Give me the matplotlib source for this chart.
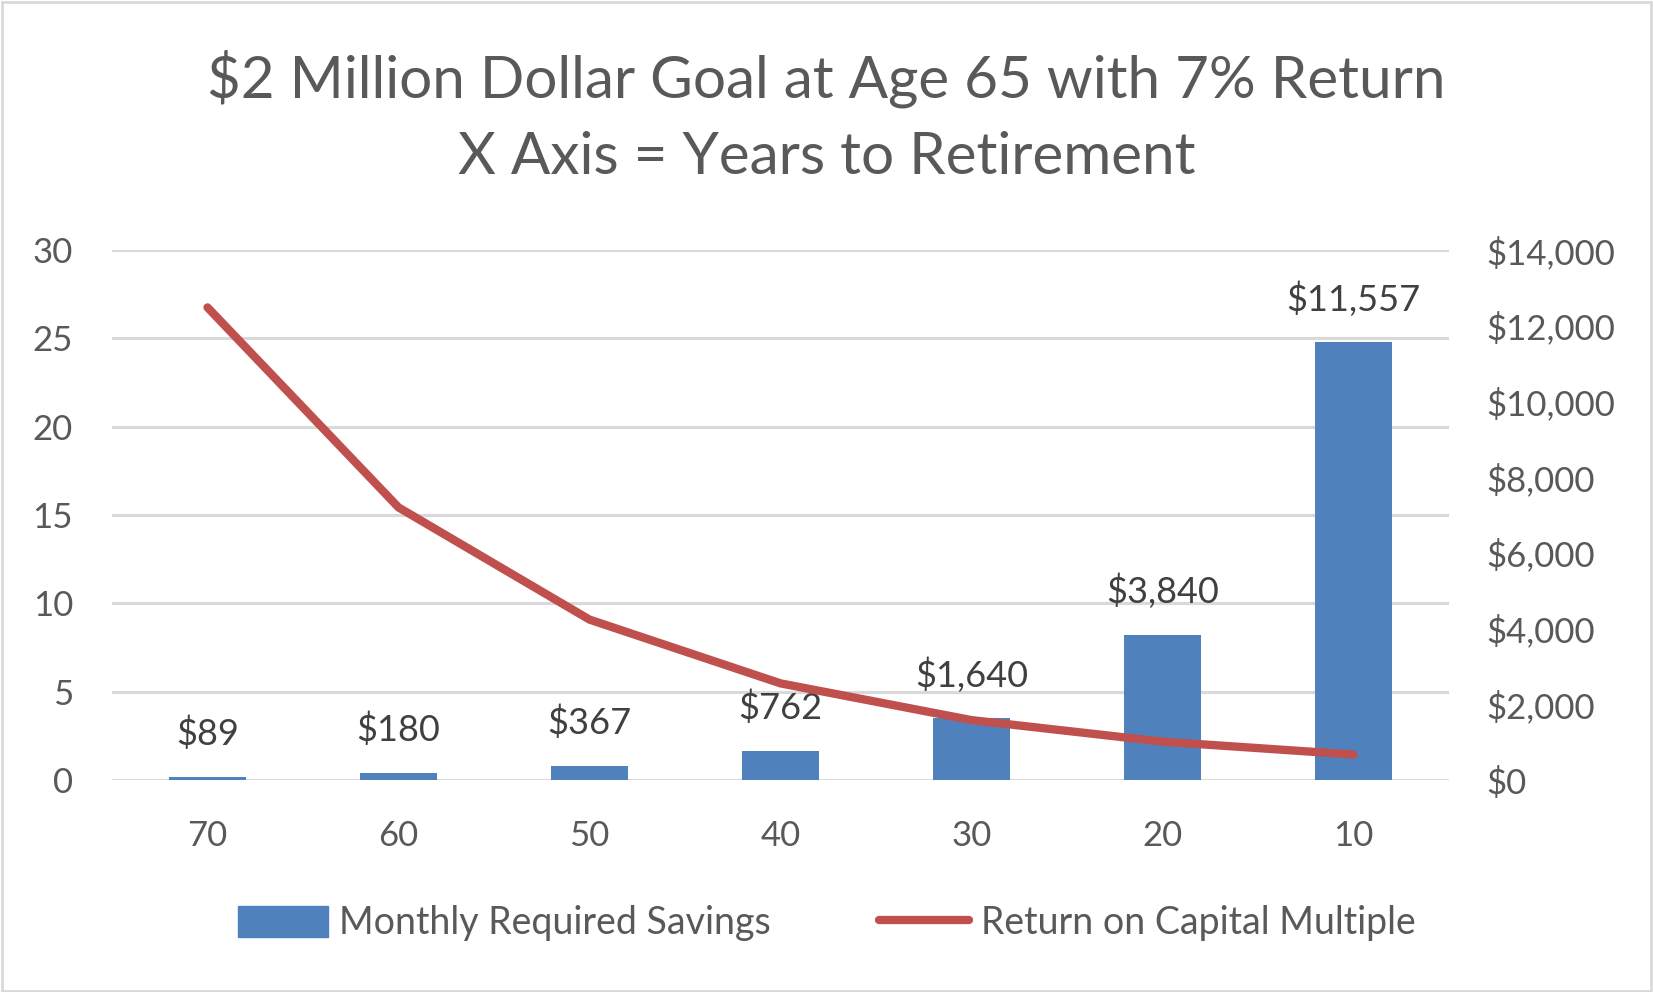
import matplotlib
matplotlib.use("Agg")
import matplotlib.pyplot as plt
from matplotlib.patches import Rectangle
from matplotlib.lines import Line2D
from matplotlib.ticker import FuncFormatter
from matplotlib.transforms import blended_transform_factory

plt.rcParams['font.family'] = ['Lato', 'DejaVu Sans']

years = ["70", "60", "50", "40", "30", "20", "10"]
monthly_savings = [89, 180, 367, 762, 1640, 3840, 11557]
return_multiple = [26.75, 15.43, 9.08, 5.47, 3.39, 2.17, 1.44]
left_ticks = [0, 5, 10, 15, 20, 25, 30]
right_ticks = [0, 2000, 4000, 6000, 8000, 10000, 12000, 14000]

title_line1 = "$2 Million Dollar Goal at Age 65 with 7% Return"
title_line2 = "X Axis = Years to Retirement"
bar_color = "#4F81BD"
line_color = "#C0504D"
text_color = "#595959"
grid_color = "#D9D9D9"

W, H = 1653, 992
fig = plt.figure(figsize=(W / 100, H / 100), dpi=100)
fig.patch.set_facecolor("white")
fig.add_artist(Rectangle((0.001, 0.001), 0.998, 0.997, transform=fig.transFigure,
                         fill=False, edgecolor=grid_color, linewidth=2))

ax = fig.add_axes([112 / W, 1 - 780 / H, (1449 - 112) / W, (780 - 250) / H])
ax2 = ax.twinx()

x = list(range(len(years)))
ax2.set_zorder(1)
ax.set_zorder(2)
ax.patch.set_visible(False)

# gridlines (left-axis positions) drawn behind the bars
gtrans = blended_transform_factory(ax2.transAxes, ax.transData)
for yv in left_ticks:
    ax2.add_line(Line2D([0, 1], [yv, yv], transform=gtrans, color=grid_color,
                        linewidth=2.2, zorder=0))

ax2.bar(x, monthly_savings, width=0.4, color=bar_color, zorder=2)
ax.plot(x, return_multiple, color=line_color, linewidth=6, solid_capstyle='round', zorder=3)

ax.set_xlim(-0.5, len(years) - 0.5)
ax.set_ylim(0, 30)
ax2.set_ylim(0, 14000)
ax.set_yticks(left_ticks)
ax2.set_yticks(right_ticks)
ax2.yaxis.set_major_formatter(FuncFormatter(lambda v, p: "${:,.0f}".format(v)))
ax.set_xticks(x)
ax.set_xticklabels(years)

for a in (ax, ax2):
    for s in a.spines.values():
        s.set_visible(False)
    a.tick_params(length=0, colors=text_color, labelsize=25)
ax.tick_params(axis='y', pad=28)
ax.tick_params(axis='x', pad=29)
ax2.tick_params(axis='y', pad=27)

for xi, v in zip(x, monthly_savings):
    ax2.annotate("${:,}".format(v), (xi, v), xytext=(0, 31), textcoords='offset points',
                 ha='center', va='center', fontsize=26, color="#404040", zorder=5)

fig.text(0.5, 1 - 79 / H, title_line1, ha='center', va='center', fontsize=42, color=text_color)
fig.text(0.5, 1 - 158 / H, title_line2, ha='center', va='center', fontsize=42, color=text_color)

handles = [Rectangle((0, 0), 1, 1, color=bar_color),
           Line2D([0], [0], color=line_color, linewidth=6, solid_capstyle='round')]
fig.legend(handles, ["Monthly Required Savings", "Return on Capital Multiple"],
           loc='center', bbox_to_anchor=(0.5, 1 - 923 / H), ncol=2, frameon=False,
           fontsize=27, labelcolor=text_color, handlelength=2.4, handleheight=0.9,
           handletextpad=0.3, columnspacing=2.9)

fig.savefig("out.png", dpi=100)
